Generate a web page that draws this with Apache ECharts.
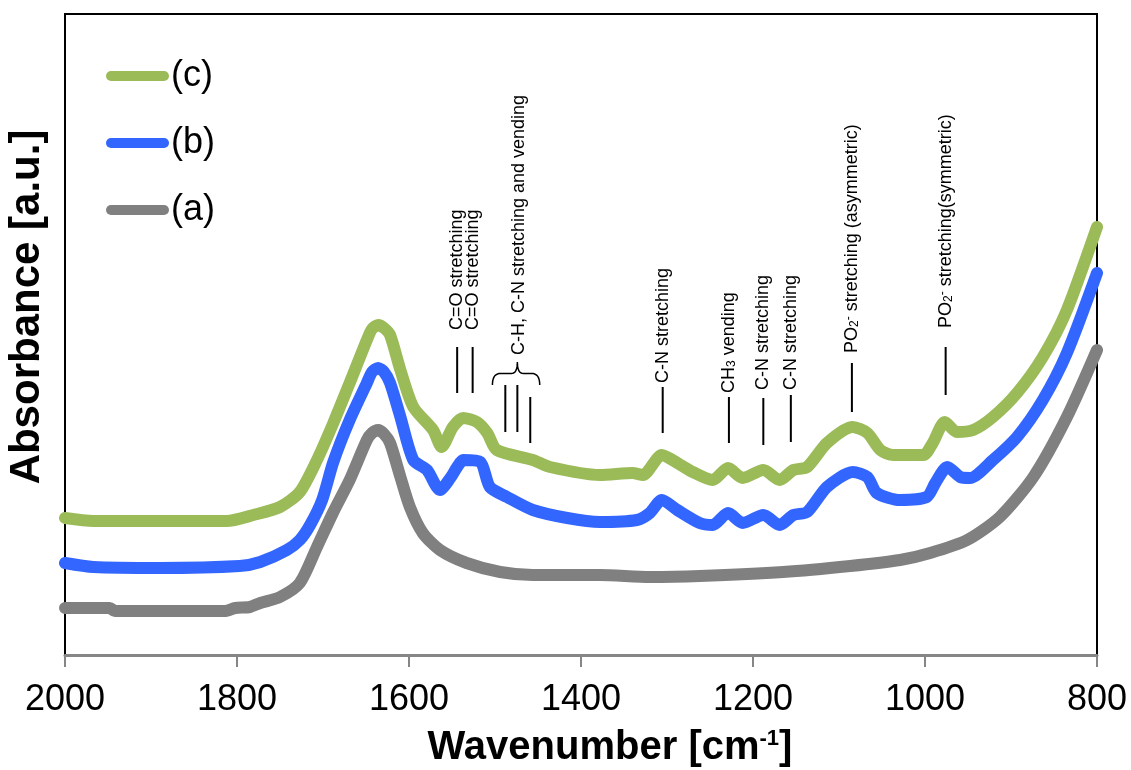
<!DOCTYPE html>
<html>
<head>
<meta charset="utf-8">
<script src="https://cdn.jsdelivr.net/npm/echarts/dist/echarts.min.js"></script>
<style>
html,body{margin:0;padding:0;background:#fff;}
#chart{width:1131px;height:770px;}
</style>
</head>
<body>
<div id="chart"></div>
<script>
// ---- data (wavenumber in cm-1, absorbance in arbitrary units) ----
const seriesNames = ['(c)', '(b)', '(a)'];
const xTicks = [2000, 1800, 1600, 1400, 1200, 1000, 800];

const waveA = [2000,1948,1942,1814,1802,1785,1773,1750,1727,1707,1688,1669,1649,1643,1636,1629,1622,1610,1599,1584,1564,1533,1494,1456,1378,1320,1262,1165,1087,1029,994,951,913,874,835,800];
const absA  = [0.47,0.47,0.44,0.44,0.47,0.48,0.52,0.58,0.72,1.08,1.43,1.75,2.15,2.22,2.25,2.21,2.12,1.78,1.48,1.22,1.05,0.92,0.83,0.80,0.80,0.78,0.79,0.83,0.89,0.95,1.02,1.15,1.38,1.78,2.38,3.05];

const waveB = [2000,1967,1890,1797,1773,1742,1727,1715,1701,1688,1669,1649,1643,1636,1629,1622,1610,1595,1579,1564,1552,1544,1537,1517,1506,1486,1456,1416,1378,1335,1320,1306,1288,1262,1247,1229,1212,1188,1169,1153,1137,1114,1084,1067,1056,1029,998,988,974,959,948,921,893,863,835,800];
const absB  = [0.92,0.88,0.87,0.89,0.93,1.05,1.15,1.30,1.55,1.93,2.35,2.72,2.83,2.87,2.83,2.72,2.38,1.95,1.85,1.65,1.77,1.88,1.95,1.93,1.68,1.58,1.45,1.37,1.33,1.35,1.42,1.55,1.45,1.32,1.30,1.42,1.32,1.40,1.30,1.40,1.43,1.68,1.83,1.78,1.62,1.55,1.58,1.72,1.88,1.78,1.77,1.95,2.18,2.55,3.02,3.82];

const waveC = [2000,1967,1812,1781,1750,1727,1707,1688,1669,1649,1643,1636,1629,1622,1610,1595,1572,1562,1549,1537,1521,1509,1498,1456,1436,1378,1340,1328,1306,1288,1270,1247,1229,1212,1188,1169,1153,1137,1114,1084,1067,1052,1037,1002,991,977,963,944,921,893,863,835,800];
const absC  = [1.37,1.34,1.34,1.40,1.48,1.63,1.95,2.32,2.72,3.15,3.26,3.30,3.27,3.20,2.85,2.48,2.25,2.08,2.28,2.37,2.33,2.22,2.05,1.95,1.88,1.80,1.82,1.80,2.00,1.92,1.83,1.75,1.87,1.77,1.85,1.75,1.85,1.88,2.12,2.28,2.22,2.05,2.00,2.00,2.12,2.33,2.23,2.25,2.38,2.62,2.98,3.45,4.28];

// annotations: wavenumber, label (rich), marker line top / bottom, text start
const annWave   = [1544, 1526, 1305, 1228, 1188, 1156, 1085, 976];
const annLabel  = ['C=O stretching', 'C=O stretching', 'C-N stretching', 'CH{sub|3} vending', 'C-N stretching', 'C-N stretching', 'PO{sub|2}{sup|-} stretching (asymmetric)', 'PO{sub|2}{sup|-} stretching(symmetric)'];
const annTop    = [3.08, 3.08, 2.68, 2.58, 2.57, 2.60, 2.92, 3.08];
const annBottom = [2.62, 2.62, 2.22, 2.12, 2.10, 2.13, 2.43, 2.60];
const annText   = [3.25, 3.25, 2.72, 2.62, 2.65, 2.65, 3.02, 3.27];

// bracketed group
const groupWave   = [1488, 1474, 1459];
const groupTop    = [2.70, 2.70, 2.58];
const groupBottom = [2.23, 2.23, 2.12];
const groupLabel  = 'C-H, C-N stretching and vending';
const groupTextWave = 1472;
const groupTextY = 3.00;
const braceWave = [1503, 1474, 1448];
const braceY = [2.70, 2.93];

const colors = {'(a)': '#808080', '(b)': '#3366FF', '(c)': '#9BBB59'};
const FONT = "'Liberation Sans', Arial, Helvetica, sans-serif";

function pairs(xs, ys) { return xs.map((x, i) => [x, ys[i]]); }

const chart = echarts.init(document.getElementById('chart'), null, {renderer: 'canvas'});

function lineSeries(name, xs, ys) {
  return {
    name: name, type: 'line', data: pairs(xs, ys),
    showSymbol: false, symbol: 'none', smooth: 0.25,
    lineStyle: {color: colors[name], width: 12, cap: 'round', join: 'round'},
    itemStyle: {color: colors[name]},
    emphasis: {disabled: true}
  };
}

const legendIcon = 'path://M5,0L58,0A5,5,0,0,1,58,10L5,10A5,5,0,0,1,5,0Z';

chart.setOption({
  animation: false,
  grid: {left: 65, right: 34, top: 14, bottom: 115, show: true, borderColor: '#000', borderWidth: 2, backgroundColor: 'transparent'},
  xAxis: {
    type: 'value', inverse: true, min: 800, max: 2000, interval: 200,
    axisLine: {show: true, lineStyle: {color: '#868686', width: 3}},
    axisTick: {show: true, length: 12, lineStyle: {color: '#868686', width: 2}},
    axisLabel: {fontSize: 36, color: '#000', margin: 27, fontFamily: FONT,
      formatter: v => String(v)},
    splitLine: {show: false}
  },
  yAxis: {
    type: 'value', min: 0, max: 6.41,
    axisLine: {show: true, lineStyle: {color: '#000', width: 2}},
    axisTick: {show: false}, axisLabel: {show: false}, splitLine: {show: false}
  },
  legend: {
    orient: 'vertical', left: 106, top: 58, padding: 0, itemWidth: 63, itemHeight: 10, itemGap: 31,
    data: seriesNames.map(n => ({name: n, icon: legendIcon, itemStyle: {color: colors[n]}})),
    textStyle: {fontSize: 36, color: '#000', fontFamily: FONT, lineHeight: 36, padding: [0, 0, 0, -3]},
    selectedMode: false
  },
  series: [
    lineSeries('(a)', waveA, absA),
    lineSeries('(b)', waveB, absB),
    lineSeries('(c)', waveC, absC)
  ]
});

const P = (x, y) => chart.convertToPixel({gridIndex: 0}, [x, y]);
const richStyle = {
  sub: {fontSize: 12, fontFamily: FONT, verticalAlign: 'bottom', fill: '#000'},
  sup: {fontSize: 12, fontFamily: FONT, verticalAlign: 'top', fill: '#000'}
};
const gfx = [];
function vText(px, py, text, size) {
  gfx.push({
    type: 'text', x: px, y: py, rotation: Math.PI / 2, z: 100,
    style: {text: text, fontSize: size, fontFamily: FONT, fill: '#000',
      align: 'left', verticalAlign: 'middle', textAlign: 'left', textVerticalAlign: 'middle', rich: richStyle}
  });
}
function vLine(wn, top, bottom) {
  const a = P(wn, top), b = P(wn, bottom);
  gfx.push({type: 'line', z: 100, shape: {x1: a[0], y1: a[1], x2: b[0], y2: b[1]}, style: {stroke: '#000', lineWidth: 2}});
}
annWave.forEach((wn, i) => {
  vLine(wn, annTop[i], annBottom[i]);
  const t = P(wn, annText[i]);
  vText(t[0], t[1], annLabel[i], 18);
});
groupWave.forEach((wn, i) => vLine(wn, groupTop[i], groupBottom[i]));
{
  const t = P(groupTextWave, groupTextY);
  vText(t[0], t[1], groupLabel, 18);
  const L = P(braceWave[0], braceY[0]), M = P(braceWave[1], braceY[1]), R = P(braceWave[2], braceY[0]);
  const yb = L[1], yt = M[1], ym = (yb + yt) / 2;
  const pts = [];
  function quad(p0, p1, p2) {
    for (let k = 0; k <= 10; k++) {
      const t = k / 10, u = 1 - t;
      pts.push([u*u*p0[0] + 2*u*t*p1[0] + t*t*p2[0], u*u*p0[1] + 2*u*t*p1[1] + t*t*p2[1]]);
    }
  }
  quad([L[0], yb], [L[0], ym], [L[0] + 8, ym]);
  quad([M[0] - 6, ym], [M[0], ym], [M[0], yt]);
  quad([M[0], yt], [M[0], ym], [M[0] + 6, ym]);
  quad([R[0] - 8, ym], [R[0], ym], [R[0], yb]);
  gfx.push({type: 'polyline', z: 100, shape: {points: pts}, style: {fill: null, stroke: '#000', lineWidth: 1.5}});
}
// axis titles
gfx.push({
  type: 'text', x: 27, y: 307, rotation: Math.PI / 2, z: 100,
  style: {text: 'Absorbance [a.u.]', fontSize: 42, fontWeight: 'bold', fontFamily: FONT, fill: '#000',
    align: 'center', verticalAlign: 'middle', textAlign: 'center', textVerticalAlign: 'middle'}
});
gfx.push({
  type: 'text', x: 610, y: 748, z: 100,
  style: {text: 'Wavenumber [cm{sup|-1}]', fontSize: 40, fontWeight: 'bold', fontFamily: FONT, fill: '#000',
    align: 'center', verticalAlign: 'middle', textAlign: 'center', textVerticalAlign: 'middle',
    rich: {sup: {fontSize: 22, fontWeight: 'bold', fontFamily: FONT, verticalAlign: 'top', fill: '#000'}}}
});
chart.setOption({graphic: {elements: gfx}});
</script>
</body>
</html>
